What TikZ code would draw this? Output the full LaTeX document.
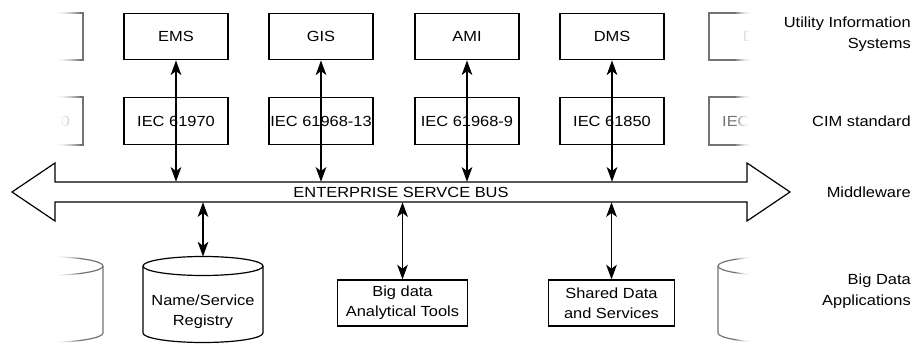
\documentclass[tikz,border=0pt]{standalone}
\usepackage{fontspec}
\setmainfont{Liberation Sans}[FakeStretch=1.12]
\usetikzlibrary{arrows.meta}

\tikzset{
  sysbox/.style={draw, line width=0.9pt, minimum width=78pt, minimum height=35pt, inner sep=0pt, font=\fontsize{11}{15}\selectfont},
  appbox/.style={draw, line width=0.9pt, minimum height=34.5pt, inner sep=0pt, align=center, font=\fontsize{11}{15}\selectfont},
  layertext/.style={anchor=east, align=right, inner sep=0pt, font=\fontsize{11}{15.5}\selectfont},
  biarrow/.style={line width=0.8pt, {Stealth[length=11pt,width=8pt,inset=3pt]}-{Stealth[length=11pt,width=8pt,inset=3pt]}},
  cyl/.style={line width=0.9pt}
}

% faded columns at both ends, drawn strip by strip
\newcommand{\ghostleft}[2]{%
  \draw [cyl, #1] (-21,13) rectangle (83,60);
  \draw [cyl, #1] (-21,97) rectangle (83,145);
  \node [font=\fontsize{11}{15}\selectfont, text=#1] (ghostlm#2) at (31,121) {IEC 61970};
  \draw [cyl, #1] (43,266) ellipse [x radius=60, y radius=9.5];
  \draw [cyl, #1] (-17,266) -- (-17,333) arc [start angle=180, end angle=0, x radius=60, y radius=9.5] -- (103,266);
}
\newcommand{\ghostright}[2]{%
  \draw [cyl, #1] (709,13) rectangle (813,60);
  \node [font=\fontsize{11}{15}\selectfont, text=#1] (ghostrt#2) at (761,36.5) {DMS};
  \draw [cyl, #1] (709,97) rectangle (813,145);
  \node [font=\fontsize{11}{15}\selectfont, text=#1] (ghostrm#2) at (761,121) {IEC 61850};
  \draw [cyl, #1] (778,266) ellipse [x radius=60, y radius=9.5];
  \draw [cyl, #1] (718,266) -- (718,333) arc [start angle=180, end angle=0, x radius=60, y radius=9.5] -- (838,266);
}

\begin{document}
\begin{tikzpicture}[x=0.75pt,y=0.75pt,yscale=-1,xscale=1]
\useasboundingbox (0,0) rectangle (913,345);

%Faded left column
\foreach \x in {52,54,...,78} {
  \pgfmathsetmacro\p{55*((\x-52)/28)^2}
  \begin{scope}
    \clip (\x,0) rectangle (\x+2.1,345);
    \ghostleft{black!\p}{\x}
  \end{scope}
}
\begin{scope}
  \clip (80,0) rectangle (110,345);
  \ghostleft{black!55}{end}
\end{scope}

%Faded right column
\begin{scope}
  \clip (700,0) rectangle (734,345);
  \ghostright{black!55}{end}
\end{scope}
\foreach \x in {734,736,...,750} {
  \pgfmathsetmacro\p{55*((752-\x)/18)^2}
  \begin{scope}
    \clip (\x,0) rectangle (\x+2.1,345);
    \ghostright{black!\p}{\x}
  \end{scope}
}

%Shape: Rectangle (utility systems)
\node [sysbox] (ems) at (176,36.5) {EMS};
\node [sysbox] (gis) at (321,36.5) {GIS};
\node [sysbox] (ami) at (467,36.5) {AMI};
\node [sysbox] (dms) at (612,36.5) {DMS};

%Shape: Bus (invisible shaft node)
\node [minimum width=519pt, minimum height=15pt, inner sep=0pt] (bus) at (401,192) {};
\draw [line width=0.9pt, fill=white] (55,182) -- (747,182) -- (747,163) -- (790,192) -- (747,221) -- (747,202) -- (55,202) -- (55,221) -- (12,192) -- (55,163) -- cycle ;
\node [font=\fontsize{11}{13}\selectfont, inner sep=0pt] (bustext) at (bus) {ENTERPRISE SERVCE BUS};

%Straight Lines (system to bus)
\draw [biarrow] (ems.south) -- (ems.south |- bus.north);
\draw [biarrow] (gis.south) -- (gis.south |- bus.north);
\draw [biarrow] (ami.south) -- (ami.south |- bus.north);
\draw [biarrow] (dms.south) -- (dms.south |- bus.north);

%Shape: Rectangle (CIM standards)
\node [sysbox] (iec70) at (176,121) {IEC 61970};
\node [sysbox] (iec13) at (321,121) {IEC 61968-13};
\node [sysbox] (iec9) at (467,121) {IEC 61968-9};
\node [sysbox] (iec50) at (612,121) {IEC 61850};

%Shape: Can (registry)
\node [align=center, inner sep=0pt, font=\fontsize{11}{15}\selectfont] (reg) at (203,312) {Name/Service\\Registry};
\coordinate (regtop) at (203,256.5);
\draw [cyl] (203,266) ellipse [x radius=60, y radius=9.5];
\draw [cyl] (143,266) -- (143,333) arc [start angle=180, end angle=0, x radius=60, y radius=9.5] -- (263,266);

%Shape: Rectangle (applications)
\node [appbox, minimum width=98pt] (big) at (402.5,303) {Big data\\Analytical Tools};
\node [appbox, minimum width=94pt] (shared) at (611.5,303) {Shared Data\\and Services};

%Straight Lines (bus to applications)
\draw [biarrow] (bus.south -| regtop) -- (regtop);
\draw [biarrow] (bus.south -| big.north) -- (big.north);
\draw [biarrow] (bus.south -| shared.north) -- (shared.north);

% Text Node
\node [layertext] (lay1) at (911,34.5) {Utility Information\\Systems};
% Text Node
\node [layertext] (lay2) at (911,121) {CIM standard};
% Text Node
\node [layertext] (lay3) at (911,192) {Middleware};
% Text Node
\node [layertext] (lay4) at (911,291) {Big Data\\Applications};

\end{tikzpicture}
\end{document}
